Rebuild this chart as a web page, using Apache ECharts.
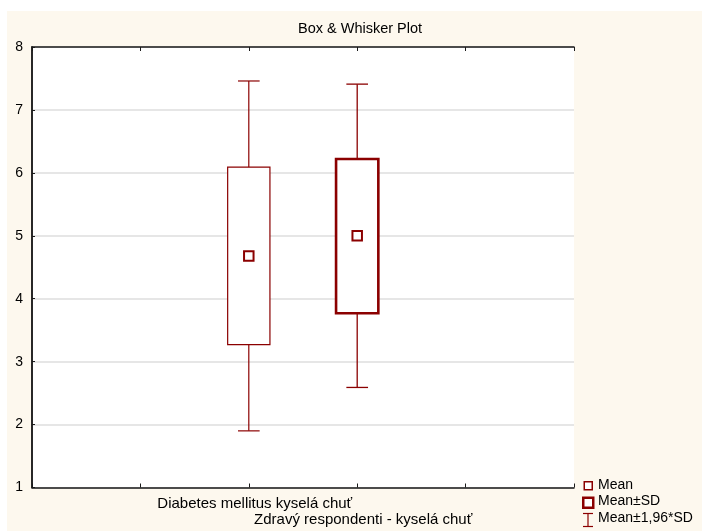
<!DOCTYPE html>
<html>
<head>
<meta charset="utf-8">
<script src="https://cdn.jsdelivr.net/npm/echarts@6/dist/echarts.min.js"></script>
<style>
html,body{margin:0;padding:0;background:#fff;}
#chart{width:702px;height:531px;}
</style>
</head>
<body>
<div id="chart"></div>
<script>
const categories = ['Diabetes mellitus kyselá chuť', 'Zdravý respondenti - kyselá chuť'];
const means = [4.68, 5.00];
const sdLow = [3.27, 3.77];
const sdHigh = [6.09, 6.22];
const ciLow = [1.90, 2.59];
const ciHigh = [7.46, 7.41];
const yTicks = [1, 2, 3, 4, 5, 6, 7, 8];
const legendNames = ['Mean', 'Mean±SD', 'Mean±1,96*SD'];

const RED = '#8b0000';
const FONT = '"Liberation Sans", Arial, sans-serif';
const SLOT = 2; // first category sits on the 2nd inner tick

const chart = echarts.init(document.getElementById('chart'), null, {renderer: 'canvas'});

const rows = categories.map((c, i) => [i + SLOT, means[i], sdLow[i], sdHigh[i], ciLow[i], ciHigh[i]]);

const option = {
  backgroundColor: '#ffffff',
  animation: false,
  title: {
    text: 'Box & Whisker Plot',
    left: 298, top: 21, padding: 0,
    textStyle: {fontFamily: FONT, fontSize: 14.5, fontWeight: 'normal', color: '#000', lineHeight: 16}
  },
  grid: {left: 32, right: 128, top: 47, bottom: 43.5, show: true, backgroundColor: '#ffffff', borderWidth: 0},
  xAxis: [{
    type: 'value', min: 0, max: 5, interval: 1,
    axisLine: {show: true, lineStyle: {color: '#1a1a1a', width: 1.5}},
    axisTick: {show: true, inside: true, length: 4, lineStyle: {color: '#1a1a1a'}},
    splitLine: {show: false},
    axisLabel: {
      margin: 8.5, color: '#000', fontFamily: FONT, fontSize: 15, lineHeight: 16,
      padding: [0, 0, 0, 12],
      showMinLabel: true, showMaxLabel: true,
      formatter: function (v) {
        const i = Math.round(v) - SLOT;
        if (i === 0) return categories[0];
        if (i === 1) return '\n' + categories[1];
        return '';
      }
    }
  }, {
    type: 'value', min: 0, max: 5, interval: 1, position: 'top',
    axisLine: {show: true, lineStyle: {color: '#1a1a1a', width: 1.5}},
    axisTick: {show: true, inside: true, length: 4, lineStyle: {color: '#1a1a1a'}},
    axisLabel: {show: false}, splitLine: {show: false}
  }],
  yAxis: [{
    type: 'value', min: yTicks[0], max: yTicks[yTicks.length - 1], interval: 1,
    axisLine: {show: true, lineStyle: {color: '#1a1a1a', width: 1.5}},
    axisTick: {show: true, inside: true, length: 3, lineStyle: {color: '#1a1a1a'}},
    axisLabel: {margin: 9, color: '#000', fontFamily: FONT, fontSize: 14},
    splitLine: {show: true, lineStyle: {color: '#dedede', width: 1.5}}
  }, {
    type: 'value', min: yTicks[0], max: yTicks[yTicks.length - 1], interval: 1, position: 'right',
    axisLine: {show: true, lineStyle: {color: '#1a1a1a', width: 1.5}},
    axisTick: {show: false}, axisLabel: {show: false}, splitLine: {show: false}
  }],
  graphic: [
    {type: 'rect', z: -100, silent: true, shape: {x: 7, y: 11, width: 702, height: 531}, style: {fill: '#fdf8ee'}},
    {type: 'rect', left: 583.5, top: 481, shape: {width: 8, height: 8}, style: {fill: '#fff', stroke: RED, lineWidth: 1.5}},
    {type: 'text', left: 598, top: 478, style: {text: legendNames[0], font: '14px ' + FONT, fill: '#000'}},
    {type: 'rect', left: 582, top: 496.5, shape: {width: 10, height: 10}, style: {fill: '#fff', stroke: RED, lineWidth: 2.5}},
    {type: 'text', left: 598, top: 494.5, style: {text: legendNames[1], font: '14px ' + FONT, fill: '#000'}},
    {type: 'polyline', shape: {points: [[583, 513.5], [593, 513.5]]}, style: {stroke: RED, lineWidth: 1.2}},
    {type: 'polyline', shape: {points: [[588, 513.5], [588, 526.5]]}, style: {stroke: RED, lineWidth: 1.2}},
    {type: 'polyline', shape: {points: [[583, 526.5], [593, 526.5]]}, style: {stroke: RED, lineWidth: 1.2}},
    {type: 'text', left: 598, top: 511.5, style: {text: legendNames[2], font: '14px ' + FONT, fill: '#000'}}
  ],
  series: [{
    type: 'custom', name: legendNames[2], data: rows, z: 2,
    encode: {x: 0, y: [4, 5]},
    renderItem: function (params, api) {
      const x = api.value(0);
      const lw = params.dataIndex === 1 ? 1.3 : 1.2;
      const pTop = api.coord([x, api.value(5)]);
      const pBoxTop = api.coord([x, api.value(3)]);
      const pBoxBot = api.coord([x, api.value(2)]);
      const pBot = api.coord([x, api.value(4)]);
      const half = api.size([1, 0])[0] * 0.1;
      const st = {stroke: RED, lineWidth: lw, fill: null};
      return {type: 'group', children: [
        {type: 'line', shape: {x1: pTop[0], y1: pTop[1], x2: pBoxTop[0], y2: pBoxTop[1]}, style: st},
        {type: 'line', shape: {x1: pBoxBot[0], y1: pBoxBot[1], x2: pBot[0], y2: pBot[1]}, style: st},
        {type: 'line', shape: {x1: pTop[0] - half, y1: pTop[1], x2: pTop[0] + half, y2: pTop[1]}, style: st},
        {type: 'line', shape: {x1: pBot[0] - half, y1: pBot[1], x2: pBot[0] + half, y2: pBot[1]}, style: st}
      ]};
    }
  }, {
    type: 'custom', name: legendNames[1], data: rows, z: 3,
    encode: {x: 0, y: [2, 3]},
    renderItem: function (params, api) {
      const x = api.value(0);
      const p1 = api.coord([x, api.value(3)]);
      const p2 = api.coord([x, api.value(2)]);
      const w = api.size([1, 0])[0] * 0.39;
      return {type: 'rect', shape: {x: p1[0] - w / 2, y: p1[1], width: w, height: p2[1] - p1[1]},
        style: {fill: '#fff', stroke: RED, lineWidth: params.dataIndex === 1 ? 2.6 : 1.2}};
    }
  }, {
    type: 'custom', name: legendNames[0], data: rows, z: 4,
    encode: {x: 0, y: 1},
    renderItem: function (params, api) {
      const p = api.coord([api.value(0), api.value(1)]);
      const s = 9.5;
      return {type: 'rect', shape: {x: p[0] - s / 2, y: p[1] - s / 2, width: s, height: s},
        style: {fill: '#fff', stroke: RED, lineWidth: 2}};
    }
  }]
};
chart.setOption(option);
</script>
</body>
</html>
